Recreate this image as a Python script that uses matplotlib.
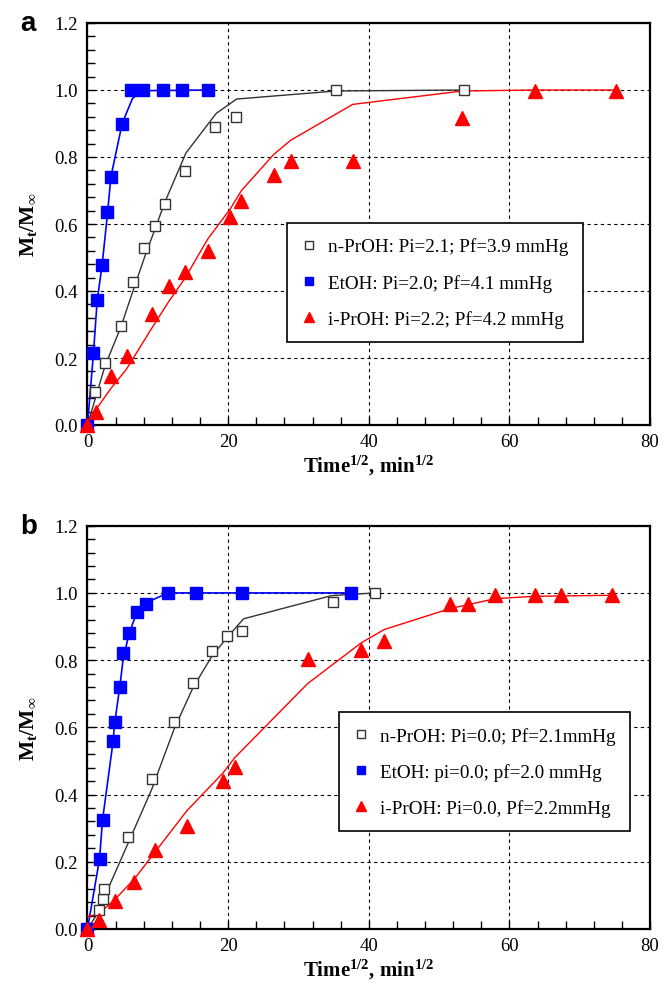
import matplotlib
matplotlib.use("Agg")
import matplotlib.pyplot as plt
from matplotlib.ticker import MultipleLocator, FormatStrFormatter

plt.rcParams['font.family'] = ['Liberation Serif', 'DejaVu Serif']
plt.rcParams['mathtext.fontset'] = 'custom'
plt.rcParams['mathtext.rm'] = 'Liberation Serif'
plt.rcParams['mathtext.bf'] = 'Liberation Serif:bold'
plt.rcParams['mathtext.it'] = 'Liberation Serif:italic'
plt.rcParams['mathtext.default'] = 'bf'

# ---------------- Panel a data ----------------
a_npr_x = [0, 1.1, 2.5, 4.7, 6.4, 8.1, 9.6, 11.0, 13.9, 18.2, 21.1, 35.3, 53.6]
a_npr_y = [0, 0.10, 0.185, 0.297, 0.428, 0.529, 0.594, 0.661, 0.757, 0.889, 0.919, 1.0, 1.0]
a_npr_fx = [0, 1.1, 2.5, 4.7, 6.4, 8.1, 9.6, 11.0, 14.0, 18.3, 21.2, 35.3, 53.6]
a_npr_fy = [0, 0.078, 0.177, 0.29, 0.396, 0.50, 0.585, 0.665, 0.812, 0.930, 0.973, 0.997, 1.0]

a_et_x = [0, 0.85, 1.37, 2.09, 2.84, 3.32, 4.93, 6.16, 7.87, 10.76, 13.4, 17.2]
a_et_y = [0, 0.215, 0.373, 0.479, 0.636, 0.740, 0.898, 1.0, 1.0, 1.0, 1.0, 1.0]
a_et_fx = [0, 0.85, 1.37, 2.09, 2.84, 3.32, 4.93, 6.4, 7.87, 17.2]
a_et_fy = [0, 0.215, 0.37, 0.48, 0.63, 0.74, 0.90, 0.975, 0.998, 1.0]

a_ipr_x = [0, 1.16, 3.36, 5.55, 9.17, 11.6, 13.8, 17.1, 20.3, 21.9, 26.5, 28.9, 37.7, 53.3, 63.6, 75.1]
a_ipr_y = [0, 0.040, 0.145, 0.205, 0.332, 0.414, 0.458, 0.519, 0.621, 0.668, 0.747, 0.787, 0.787, 0.916, 0.996, 0.996]
a_ipr_fx = [0, 1.16, 3.36, 5.55, 9.17, 11.6, 13.8, 17.1, 20.3, 21.9, 26.5, 28.9, 37.7, 53.3, 63.6, 75.1]
a_ipr_fy = [0, 0.045, 0.11, 0.167, 0.29, 0.37, 0.436, 0.555, 0.645, 0.70, 0.808, 0.85, 0.957, 0.997, 1.0, 1.0]

a_labels = ["n-PrOH: Pi=2.1; Pf=3.9 mmHg",
            "EtOH: Pi=2.0; Pf=4.1 mmHg",
            "i-PrOH: Pi=2.2; Pf=4.2 mmHg"]

# ---------------- Panel b data ----------------
b_npr_x = [0, 1.67, 2.14, 2.38, 5.81, 9.14, 12.3, 15.0, 17.7, 19.8, 22.0, 34.9, 40.9]
b_npr_y = [0, 0.057, 0.089, 0.119, 0.274, 0.445, 0.616, 0.732, 0.827, 0.873, 0.887, 0.973, 1.0]
b_npr_fx = [0, 1.67, 2.14, 2.38, 5.81, 9.14, 12.3, 15.0, 17.7, 19.8, 22.2, 34.7, 40.9]
b_npr_fy = [0, 0.054, 0.079, 0.094, 0.257, 0.416, 0.594, 0.718, 0.812, 0.866, 0.923, 0.992, 1.0]

b_et_x = [0, 1.71, 2.14, 3.62, 3.86, 4.62, 5.05, 5.86, 7.05, 8.29, 11.4, 15.4, 22.0, 37.5]
b_et_y = [0, 0.208, 0.325, 0.560, 0.617, 0.721, 0.822, 0.882, 0.942, 0.968, 1.0, 1.0, 1.0, 1.0]
b_et_fx = [0, 1.71, 2.14, 3.62, 3.86, 4.62, 5.05, 5.86, 7.05, 8.29, 11.4, 37.5]
b_et_fy = [0, 0.208, 0.325, 0.555, 0.612, 0.725, 0.80, 0.875, 0.945, 0.97, 1.0, 1.0]

b_ipr_x = [0, 1.57, 3.95, 6.67, 9.57, 14.1, 19.3, 20.95, 31.3, 38.9, 42.2, 51.5, 54.1, 58.0, 63.7, 67.4, 74.6]
b_ipr_y = [0, 0.028, 0.083, 0.139, 0.236, 0.305, 0.441, 0.483, 0.802, 0.830, 0.858, 0.968, 0.968, 0.993, 0.993, 0.993, 0.993]
b_ipr_fx = [0, 1.57, 3.95, 6.67, 9.57, 14.1, 19.3, 20.95, 31.3, 38.9, 42.2, 51.5, 58.0, 63.7, 74.6]
b_ipr_fy = [0.037, 0.045, 0.089, 0.149, 0.228, 0.351, 0.465, 0.51, 0.73, 0.851, 0.891, 0.953, 0.983, 0.99, 0.993]

b_labels = ["n-PrOH: Pi=0.0; Pf=2.1mmHg",
            "EtOH: pi=0.0; pf=2.0 mmHg",
            "i-PrOH: Pi=0.0, Pf=2.2mmHg"]

W, H = 667, 987
fig = plt.figure(figsize=(W / 100, H / 100), dpi=100)

ax_a = fig.add_axes([87.5 / W, 1 - 426 / H, 562.5 / W, 402 / H])
ax_b = fig.add_axes([87.5 / W, 1 - 930 / H, 562.5 / W, 403.3 / H])

blue = '#0000ff'
red = '#ff0000'
dark = '#333333'


def draw(ax, npr, et, ipr, labels, legpos):
    (nx, ny, nfx, nfy) = npr
    (ex, ey, efx, efy) = et
    (ix, iy, ifx, ify) = ipr
    ax.plot(nfx, nfy, '-', color=dark, lw=1.0, zorder=3)
    ax.plot(efx, efy, '-', color=blue, lw=1.2, zorder=3)
    ax.plot(ifx, ify, '-', color=red, lw=1.0, zorder=3)
    h1, = ax.plot(nx, ny, 's', mfc='white', mec=dark, mew=1.0, ms=7.5, ls='none',
                  zorder=4, label=labels[0])
    h2, = ax.plot(ex, ey, 's', color=blue, ms=8, ls='none', zorder=5, label=labels[1], clip_on=False)
    h3, = ax.plot(ix, iy, '^', color=red, ms=9.5, ls='none', zorder=6, label=labels[2], clip_on=False)

    ax.set_xlim(0, 80)
    ax.set_ylim(0, 1.2)
    ax.xaxis.set_major_locator(MultipleLocator(20))
    ax.xaxis.set_minor_locator(MultipleLocator(4))
    ax.yaxis.set_major_locator(MultipleLocator(0.2))
    ax.yaxis.set_minor_locator(MultipleLocator(0.04))
    ax.yaxis.set_major_formatter(FormatStrFormatter('%.1f'))
    ax.tick_params(which='both', direction='in', length=6, width=1.0,
                   top=False, right=False, labelsize=13.5)
    ax.tick_params(axis='x', pad=6)
    ax.tick_params(axis='y', pad=7)
    for s in ax.spines.values():
        s.set_linewidth(1.6)
    ax.grid(True, which='major', color='black', ls=(0, (3, 3)), lw=0.8)
    ax.set_axisbelow(True)
    ax.set_xlabel('Time$^{1/2}$, min$^{1/2}$', fontsize=15, fontweight='bold', labelpad=2)
    ax.set_ylabel(r'M$_t$/M$_\infty$', fontsize=15.5, fontweight='bold', labelpad=11)
    leg = ax.legend(handles=[h1, h2, h3], loc='upper left', bbox_to_anchor=legpos,
                    fontsize=13.8, markerscale=0.7, frameon=True, fancybox=False,
                    edgecolor='black', framealpha=1, handlelength=0.8,
                    handletextpad=0.6, labelspacing=0.95, borderpad=0.75,
                    borderaxespad=0)
    leg.get_frame().set_linewidth(1.2)
    leg.set_zorder(10)


draw(ax_a, (a_npr_x, a_npr_y, a_npr_fx, a_npr_fy), (a_et_x, a_et_y, a_et_fx, a_et_fy),
     (a_ipr_x, a_ipr_y, a_ipr_fx, a_ipr_fy), a_labels, (0.355, 0.502))
draw(ax_b, (b_npr_x, b_npr_y, b_npr_fx, b_npr_fy), (b_et_x, b_et_y, b_et_fx, b_et_fy),
     (b_ipr_x, b_ipr_y, b_ipr_fx, b_ipr_fy), b_labels, (0.447, 0.537))

fig.text(20 / W, 1 - 24 / H, 'a', fontsize=20, fontweight='bold',
         family=['Liberation Sans', 'DejaVu Sans'], va='center', ha='left')
fig.text(20 / W, 1 - 527 / H, 'b', fontsize=20, fontweight='bold',
         family=['Liberation Sans', 'DejaVu Sans'], va='center', ha='left')

fig.savefig('out.png', dpi=100)
